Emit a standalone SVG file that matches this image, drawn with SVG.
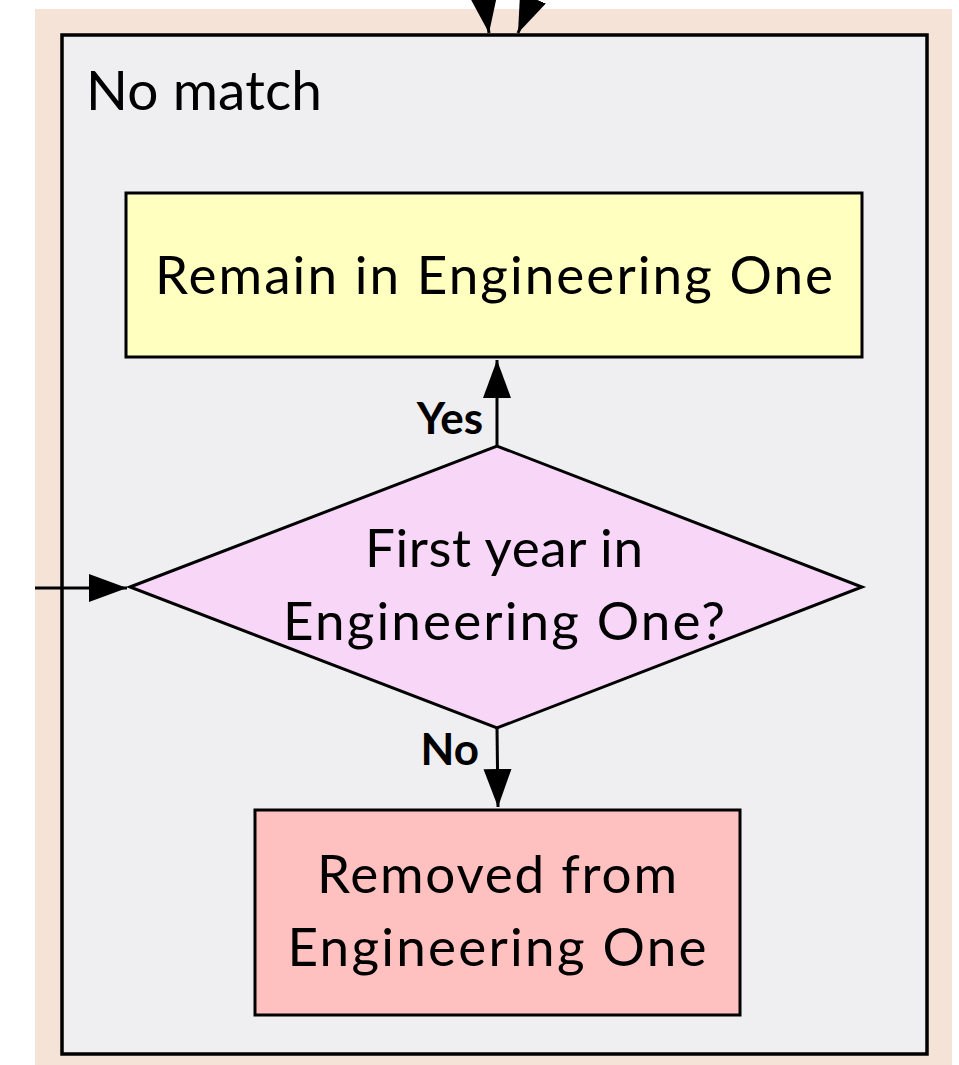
<svg xmlns="http://www.w3.org/2000/svg" width="959" height="1065" viewBox="0 0 959 1065">
  <style>
    .txt { font-family: Lato, "Noto Sans", "Liberation Sans", sans-serif; fill: #000; }
    .node { stroke: #000; stroke-width: 3; }
    .edge { stroke: #000; stroke-width: 3; fill: none; }
    .lbl { font-family: Lato, "Noto Sans", "Liberation Sans", sans-serif; font-weight: 700; font-size: 44px; fill: #000; }
  </style>
  <defs>
    <marker id="arrow" markerUnits="userSpaceOnUse" markerWidth="40" markerHeight="30" refX="38" refY="14" orient="auto">
      <path d="M0,0 L38,14 L0,28 Z" fill="#000"/>
    </marker>
  </defs>
  <rect width="959" height="1065" fill="#ffffff"/>
  <g id="outer-cluster">
    <rect x="35" y="9" width="917" height="1056" fill="#f6e3d7"/>
  </g>
  <g id="no-match">
    <rect x="62" y="35" width="865" height="1019" fill="#efeff2" stroke="#000" stroke-width="3.5"/>
    <text class="txt" x="86" y="110" font-size="55" textLength="236" lengthAdjust="spacing">No match</text>
  </g>
  <g id="remain">
    <rect class="node" x="126" y="193" width="736" height="164" fill="#ffffc0"/>
    <text class="txt" x="494" y="294" font-size="53" text-anchor="middle" textLength="678" lengthAdjust="spacing">Remain in Engineering One</text>
  </g>
  <g id="first-year">
    <polygon class="node" points="130,587 497,446 862,587 497,728" fill="#f7d6f7"/>
    <text class="txt" x="504" y="567" font-size="53" text-anchor="middle" textLength="278" lengthAdjust="spacing">First year in</text>
    <text class="txt" x="504" y="640" font-size="53" text-anchor="middle" textLength="442" lengthAdjust="spacing">Engineering One?</text>
  </g>
  <g id="removed">
    <rect class="node" x="255" y="810" width="485" height="205" fill="#ffc0c0"/>
    <text class="txt" x="497" y="893" font-size="53" text-anchor="middle" textLength="360" lengthAdjust="spacing">Removed from</text>
    <text class="txt" x="497" y="966" font-size="53" text-anchor="middle" textLength="419" lengthAdjust="spacing">Engineering One</text>
  </g>
  <g id="connectors">
    <path class="edge" d="M35,588 L127,588" marker-end="url(#arrow)"/>
    <path class="edge" d="M497,446 L497,360" marker-end="url(#arrow)"/>
    <path class="edge" d="M497,728 L498,807" marker-end="url(#arrow)"/>
    <path class="edge" d="M480,-30 L489,33" marker-end="url(#arrow)"/>
    <path class="edge" d="M545,-30 L518,33" marker-end="url(#arrow)"/>
    <text class="lbl" x="483" y="434" text-anchor="end">Yes</text>
    <text class="lbl" x="479" y="765" text-anchor="end">No</text>
  </g>
</svg>
